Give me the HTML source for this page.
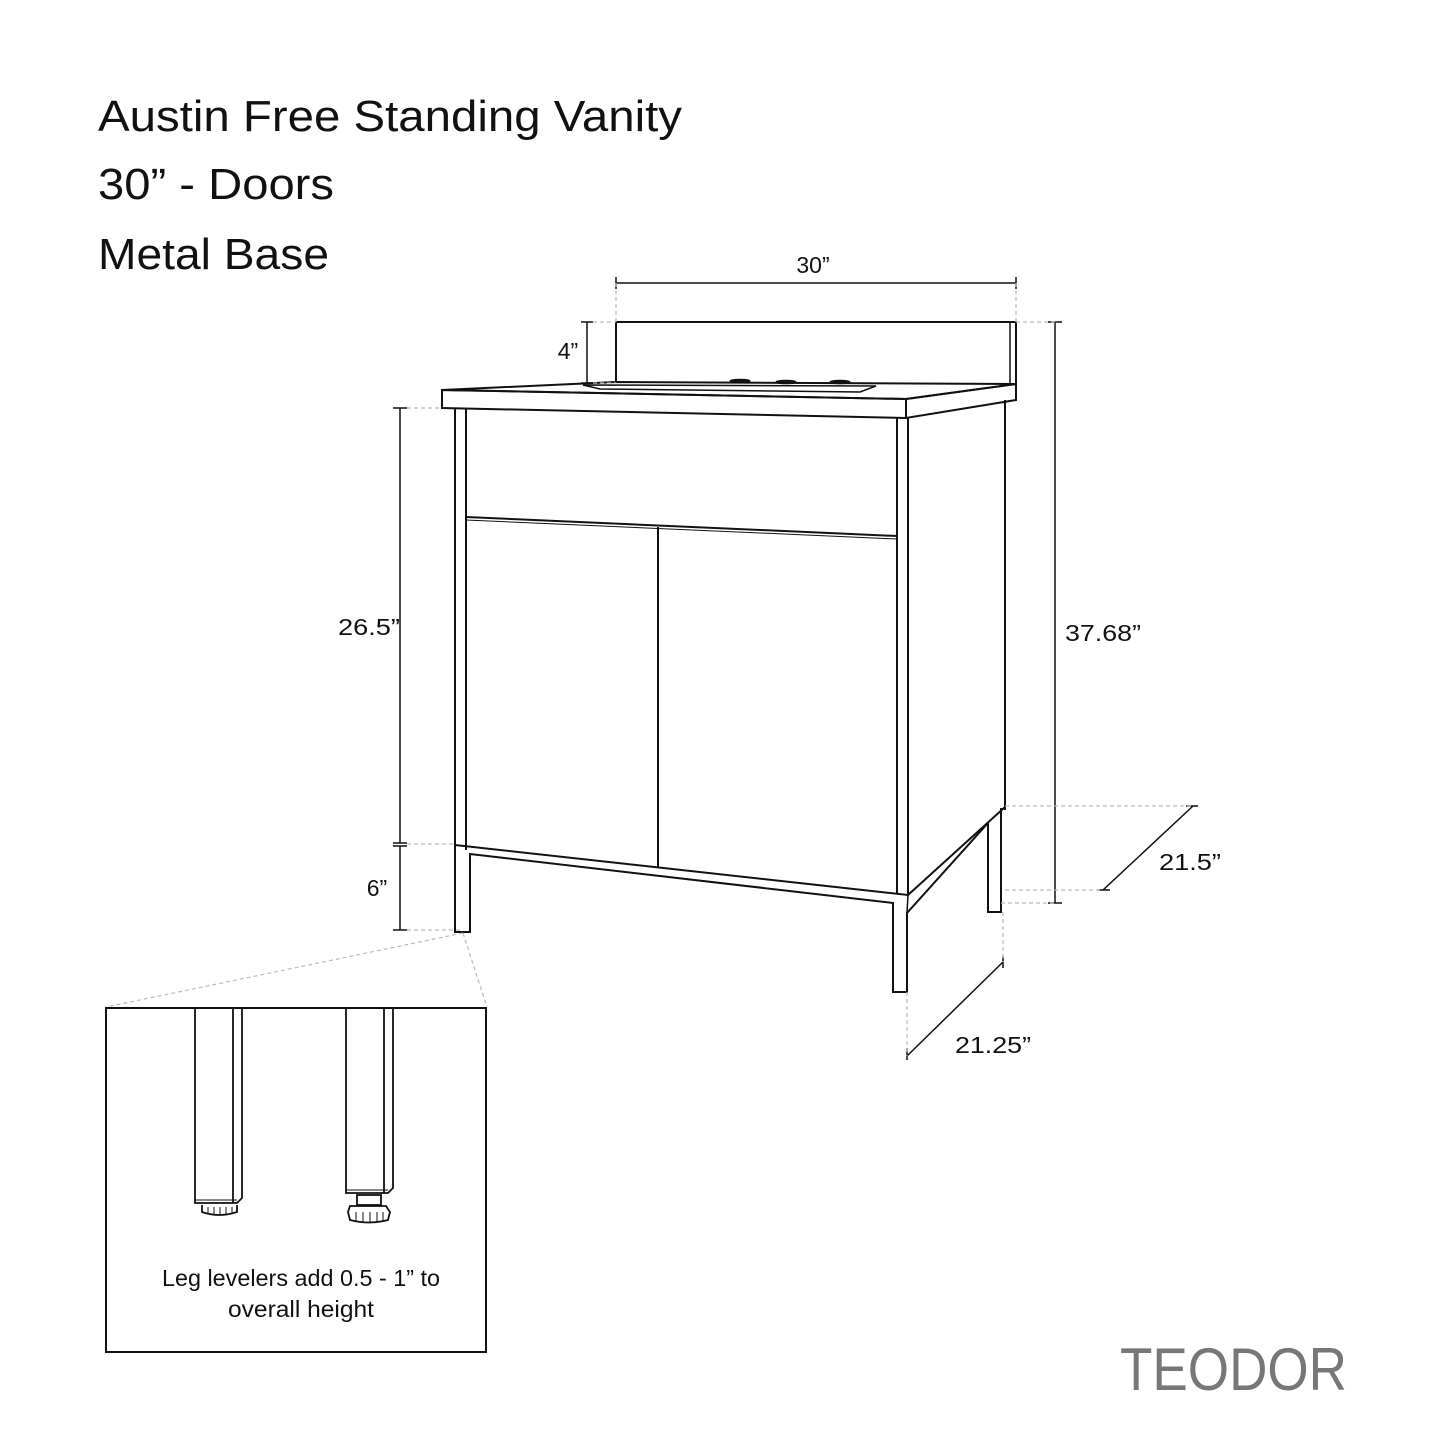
<!DOCTYPE html>
<html><head><meta charset="utf-8"><style>
html,body{margin:0;padding:0;background:#fff}
svg{display:block}
text{font-family:"Liberation Sans","DejaVu Sans",sans-serif;fill:#111}
</style></head><body>
<svg width="1445" height="1445" viewBox="0 0 1445 1445" xmlns="http://www.w3.org/2000/svg">
<rect width="1445" height="1445" fill="#fff"/>
<text x="98" y="131" font-size="44" textLength="584" lengthAdjust="spacingAndGlyphs">Austin Free Standing Vanity</text>
<text x="98" y="199" font-size="44" textLength="236" lengthAdjust="spacingAndGlyphs">30” - Doors</text>
<text x="98" y="269" font-size="44" textLength="231" lengthAdjust="spacingAndGlyphs">Metal Base</text>

<g fill="none" stroke="#111" stroke-width="2" stroke-linejoin="miter">
<polyline points="616,383 616,322 1016,322 1016,383"/>
<line x1="1010" y1="322" x2="1010" y2="383" stroke-width="1.5"/>
<polygon points="442,390 616,382 1016,384 906,399 442,390"/>
<polygon points="442,390 906,399 906,418 442,408"/>
<polygon points="906,399 1016,384 1016,400 906,418"/>
<path d="M583,385 L876,386 L860,392 L600,389 Z" stroke-width="1.5"/>
<ellipse cx="740" cy="381" rx="10" ry="1.8" fill="#111" stroke-width="1"/>
<ellipse cx="786" cy="382" rx="10" ry="1.8" fill="#111" stroke-width="1"/>
<ellipse cx="840" cy="382" rx="10" ry="1.8" fill="#111" stroke-width="1"/>
<line x1="455" y1="408" x2="455" y2="845"/>
<line x1="466" y1="408" x2="466" y2="850"/>
<line x1="897" y1="418" x2="897" y2="893"/>
<line x1="908" y1="418" x2="908" y2="895"/>
<line x1="1005" y1="400" x2="1005" y2="808"/>
<line x1="466" y1="517" x2="897" y2="536" stroke-width="2"/>
<line x1="466" y1="520" x2="897" y2="539" stroke-width="1"/>
<line x1="658" y1="527" x2="658" y2="867"/>
<polyline points="455,845 908,895 1005,807 1005,810"/>
<polyline points="455,845 455,932 470,932 470,854 893,903 893,992 907,992 907,913 988,823 988,912 1001,912 1001,808"/>
<line x1="908" y1="895" x2="907" y2="913" stroke-width="1.5"/>
</g>

<g stroke="#111" stroke-width="1.5" fill="none">
<line x1="616" y1="283" x2="1016" y2="283"/>
<line x1="616" y1="277" x2="616" y2="289"/><line x1="1016" y1="277" x2="1016" y2="289"/>
<line x1="587" y1="322" x2="587" y2="383"/>
<line x1="581" y1="322" x2="593" y2="322"/><line x1="581" y1="383" x2="593" y2="383"/>
<line x1="400" y1="408" x2="400" y2="843"/>
<line x1="393" y1="408" x2="407" y2="408"/><line x1="393" y1="843" x2="407" y2="843"/>
<line x1="400" y1="846" x2="400" y2="930"/>
<line x1="393" y1="846" x2="407" y2="846"/><line x1="393" y1="930" x2="407" y2="930"/>
<line x1="1055" y1="322" x2="1055" y2="903"/>
<line x1="1048" y1="322" x2="1062" y2="322"/><line x1="1048" y1="903" x2="1062" y2="903"/>
<line x1="1193" y1="806" x2="1103" y2="890"/>
<line x1="1186" y1="806" x2="1198" y2="806"/><line x1="1098" y1="890" x2="1110" y2="890"/>
<line x1="907" y1="1056" x2="1003" y2="962"/>
<line x1="907" y1="1048" x2="907" y2="1060"/><line x1="1003" y1="956" x2="1003" y2="968"/>
</g>
<g stroke="#bbb" stroke-width="1.2" stroke-dasharray="4,3" fill="none">
<line x1="616" y1="283" x2="616" y2="322"/><line x1="1016" y1="283" x2="1016" y2="322"/>
<line x1="593" y1="322" x2="616" y2="322"/><line x1="593" y1="383" x2="616" y2="383"/>
<line x1="407" y1="408" x2="442" y2="408"/><line x1="407" y1="844" x2="455" y2="844"/>
<line x1="407" y1="930" x2="460" y2="930"/>
<line x1="1016" y1="322" x2="1055" y2="322"/><line x1="1001" y1="903" x2="1055" y2="903"/>
<line x1="1005" y1="806" x2="1193" y2="806"/><line x1="1005" y1="890" x2="1103" y2="890"/>
<line x1="907" y1="992" x2="907" y2="1056"/><line x1="1003" y1="912" x2="1003" y2="962"/>
<line x1="463" y1="933" x2="106" y2="1007"/><line x1="463" y1="933" x2="486" y2="1004"/>
</g>
<g font-size="23">
<text x="813" y="273" text-anchor="middle">30”</text>
<text x="568" y="359" text-anchor="middle">4”</text>
<text x="369" y="635" text-anchor="middle" textLength="62" lengthAdjust="spacingAndGlyphs">26.5”</text>
<text x="377" y="896" text-anchor="middle">6”</text>
<text x="1103" y="641" text-anchor="middle" textLength="76" lengthAdjust="spacingAndGlyphs">37.68”</text>
<text x="1190" y="870" text-anchor="middle" textLength="62" lengthAdjust="spacingAndGlyphs">21.5”</text>
<text x="993" y="1053" text-anchor="middle" textLength="76" lengthAdjust="spacingAndGlyphs">21.25”</text>
</g>

<rect x="106" y="1008" width="380" height="344" fill="none" stroke="#111" stroke-width="2"/>
<g fill="none" stroke="#111" stroke-width="1.8">
<polyline points="195,1008 195,1203 237,1203 242,1198 242,1008"/>
<line x1="233" y1="1008" x2="233" y2="1203"/>
<line x1="195" y1="1200" x2="237" y2="1200" stroke-width="1"/>
<path d="M202,1205 L202,1212 Q219,1218 237,1212 L237,1205"/>
<g stroke-width="1"><line x1="208" y1="1207" x2="208" y2="1214"/><line x1="214" y1="1207" x2="214" y2="1215"/><line x1="220" y1="1207" x2="220" y2="1215"/><line x1="226" y1="1207" x2="226" y2="1215"/><line x1="232" y1="1207" x2="232" y2="1214"/></g>
<polyline points="346,1008 346,1193 388,1193 393,1188 393,1008"/>
<line x1="384" y1="1008" x2="384" y2="1193"/>
<line x1="346" y1="1190" x2="388" y2="1190" stroke-width="1"/>
<rect x="357" y="1195" width="24" height="10"/>
<path d="M350,1206 L386,1206 L390,1212 L388,1220 Q369,1225 350,1220 L348,1212 Z"/>
<g stroke-width="1"><line x1="356" y1="1212" x2="356" y2="1221"/><line x1="363" y1="1212" x2="363" y2="1222"/><line x1="370" y1="1212" x2="370" y2="1222"/><line x1="377" y1="1212" x2="377" y2="1222"/><line x1="383" y1="1212" x2="383" y2="1221"/></g>
</g>
<text x="301" y="1286" font-size="23" text-anchor="middle" textLength="278" lengthAdjust="spacingAndGlyphs">Leg levelers add 0.5 - 1” to</text>
<text x="301" y="1317" font-size="23" text-anchor="middle" textLength="146" lengthAdjust="spacingAndGlyphs">overall height</text>

<text x="1120" y="1390" font-size="60" textLength="227" lengthAdjust="spacingAndGlyphs" style="fill:#777">TEODOR</text>
</svg>
</body></html>
